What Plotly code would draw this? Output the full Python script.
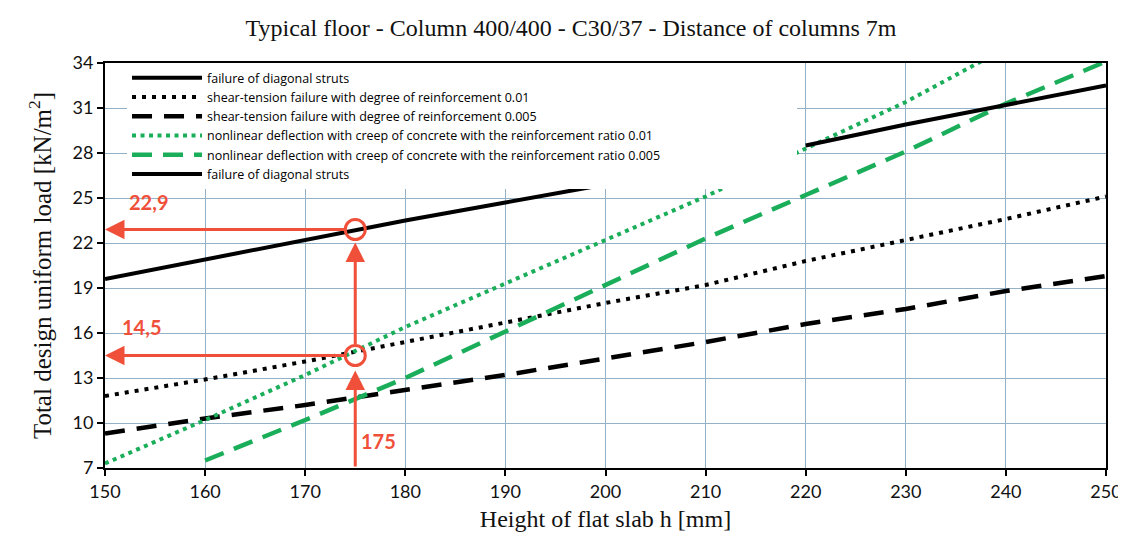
import plotly.graph_objects as go

# ---------------- data ----------------
slab_h = [150, 160, 170, 180, 190, 200, 210, 220, 230, 240, 250]

struts_h_a = [150, 160, 170, 180, 190, 200, 210]
struts_q_a = [19.6, 20.9, 22.2, 23.5, 24.7, 25.9, 27.0]
struts_h_b = [220, 230, 240, 250]
struts_q_b = [28.5, 29.9, 31.2, 32.5]

shear_001 = [11.8, 12.9, 14.1, 15.4, 16.7, 18.0, 19.2, 20.8, 22.2, 23.6, 25.1]
shear_0005 = [9.3, 10.3, 11.2, 12.2, 13.2, 14.3, 15.4, 16.6, 17.6, 18.8, 19.8]

defl_h_001 = [150, 160, 170, 180, 190, 200, 210, 220, 230, 240]
defl_001 = [7.3, 10.2, 13.2, 16.4, 19.3, 22.2, 25.1, 28.3, 31.4, 35.0]
defl_h_0005 = [160, 170, 180, 190, 200, 210, 220, 230, 240, 250]
defl_0005 = [7.5, 10.2, 13.0, 16.1, 19.2, 22.3, 25.2, 28.1, 31.3, 34.1]

y_ticks = [7, 10, 13, 16, 19, 22, 25, 28, 31, 34]
x_ticks = [150, 160, 170, 180, 190, 200, 210, 220, 230, 240, 250]

read_h = 175
read_q = [22.9, 14.5]
read_labels = ["22,9", "14,5"]

names = [
    "failure of diagonal struts",
    "shear-tension failure with degree of reinforcement 0.01",
    "shear-tension failure with degree of reinforcement 0.005",
    "nonlinear deflection with creep of concrete with the reinforcement ratio 0.01",
    "nonlinear deflection with creep of concrete with the reinforcement ratio 0.005",
]

GREEN = "#1BAE5A"
RED = "#F0503A"
GRID = "#93B1C7"

fig = go.Figure()
fig.add_trace(go.Scatter(x=struts_h_a, y=struts_q_a, mode="lines", name=names[0],
                         line=dict(color="black", width=4)))
fig.add_trace(go.Scatter(x=slab_h, y=shear_001, mode="lines", name=names[1],
                         line=dict(color="black", width=4, dash="4px,6px")))
fig.add_trace(go.Scatter(x=slab_h, y=shear_0005, mode="lines", name=names[2],
                         line=dict(color="black", width=4.5, dash="20px,12px")))
fig.add_trace(go.Scatter(x=defl_h_001, y=defl_001, mode="lines", name=names[3],
                         line=dict(color=GREEN, width=4, dash="4px,4.5px")))
fig.add_trace(go.Scatter(x=defl_h_0005, y=defl_0005, mode="lines", name=names[4],
                         line=dict(color=GREEN, width=4.5, dash="20px,11px")))
fig.add_trace(go.Scatter(x=struts_h_b, y=struts_q_b, mode="lines", name=names[0],
                         line=dict(color="black", width=4)))

# reading circles
for q in read_q:
    fig.add_shape(type="circle", xref="x", yref="y", xsizemode="pixel", ysizemode="pixel",
                  xanchor=read_h, yanchor=q, x0=-10, x1=10, y0=-10, y1=10,
                  line=dict(color=RED, width=3))

arrow_common = dict(showarrow=True, arrowhead=2, arrowsize=1.3, arrowwidth=3,
                    arrowcolor=RED, axref="x", ayref="y", text="")
# vertical arrow from the axis to the lower circle
fig.add_annotation(x=read_h, y=read_q[1], ax=read_h, ay=y_ticks[0], standoff=15, **arrow_common)
# vertical arrow from the lower circle to the upper circle
fig.add_annotation(x=read_h, y=read_q[0], ax=read_h, ay=read_q[1], standoff=13,
                   startstandoff=10, **arrow_common)
# horizontal arrows to the load axis, with their labels
label_xshift = [22, 15]
label_yshift = [14, 15]
for q, lab, xs, ys in zip(read_q, read_labels, label_xshift, label_yshift):
    fig.add_annotation(x=x_ticks[0], y=q, ax=read_h, ay=q, startstandoff=9, standoff=0,
                       **arrow_common)
    fig.add_annotation(x=x_ticks[0], y=q, text=lab, showarrow=False, xanchor="left",
                       yanchor="bottom", xshift=xs, yshift=ys,
                       font=dict(family="Lato", size=20, color=RED, weight="bold"))
fig.add_annotation(x=read_h, y=y_ticks[0], text=str(read_h), showarrow=False,
                   xanchor="left", yanchor="bottom", xshift=4, yshift=13,
                   font=dict(family="Lato", size=20, color=RED, weight="bold"))

fig.update_layout(
    width=1126, height=538,
    margin=dict(l=97, r=23, t=55, b=78),
    paper_bgcolor="white", plot_bgcolor="white",
    title=dict(text="Typical floor - Column 400/400 - C30/37 - Distance of columns 7m",
               x=0.5, xanchor="center", y=1 - 20 / 538, yanchor="middle",
               font=dict(family="Liberation Serif", size=24, color="#111")),
    legend=dict(orientation="h", x=0.022, y=1.0, xanchor="left", yanchor="top",
                bgcolor="white", borderwidth=0, itemwidth=70,
                entrywidth=585, entrywidthmode="pixels",
                font=dict(family="Open Sans", size=12.5, color="black"),
                tracegroupgap=0),
    showlegend=True,
)
fig.update_xaxes(range=[150, 250], tickvals=x_ticks, ticktext=[str(v) for v in x_ticks],
                 showgrid=True, gridcolor=GRID, gridwidth=1.2,
                 showline=True, linecolor="black", linewidth=2, mirror=True,
                 ticks="outside", ticklen=6, tickwidth=1.5, tickcolor="black",
                 tickfont=dict(family="Lato", size=18, color="#111"),
                 zeroline=False,
                 title=dict(text="Height of flat slab h [mm]", standoff=10,
                            font=dict(family="Liberation Serif", size=24, color="#111")))
fig.update_yaxes(range=[7, 34], tickvals=y_ticks, ticktext=[str(v) for v in y_ticks],
                 showgrid=True, gridcolor=GRID, gridwidth=1.2,
                 showline=True, linecolor="black", linewidth=2, mirror=True,
                 ticks="outside", ticklen=6, tickwidth=1.5, tickcolor="black",
                 tickfont=dict(family="Lato", size=18, color="#111"),
                 zeroline=False,
                 title=dict(text="Total design uniform load [kN/m<sup>2</sup>]", standoff=14,
                            font=dict(family="Liberation Serif", size=25, color="#111")))

fig.write_html("out.html")
